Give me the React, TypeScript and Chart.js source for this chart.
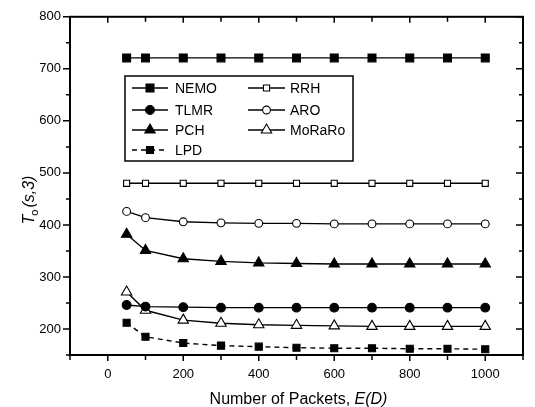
import React, { useEffect, useRef } from "react";
import { Chart, registerables } from "chart.js";

Chart.register(...registerables);

const xValues = [50, 100, 200, 300, 400, 500, 600, 700, 800, 900, 1000];
const nemo = [721, 721, 721, 721, 721, 721, 721, 721, 721, 721, 721];
const rrh = [480, 480, 480, 480, 480, 480, 480, 480, 480, 480, 480];
const tlmr = [246, 243, 242, 241, 241, 241, 241, 241, 241, 241, 241];
const aro = [426, 414, 406, 404, 403, 403, 402, 402, 402, 402, 402];
const pch = [382, 351, 335, 330, 327, 326, 325, 325, 325, 325, 325];
const moraro = [271, 236, 217, 211, 208, 207, 206, 205, 205, 205, 205];
const lpd = [212, 185, 173, 168, 166, 164, 163, 163, 162, 162, 161];

const xTickLabels = [0, 200, 400, 600, 800, 1000];
const yTickLabels = [200, 300, 400, 500, 600, 700, 800];

const FONT = "'Liberation Sans', Arial, Helvetica, sans-serif";

type Series = {
  label: string;
  values: number[];
  style: "rect" | "circle" | "triangle";
  radius: number;
  filled: boolean;
  dash: number[];
};

const seriesList: Series[] = [
  { label: "NEMO", values: nemo, style: "rect", radius: 5.6, filled: true, dash: [] },
  { label: "RRH", values: rrh, style: "rect", radius: 4.3, filled: false, dash: [] },
  { label: "TLMR", values: tlmr, style: "circle", radius: 4.4, filled: true, dash: [] },
  { label: "ARO", values: aro, style: "circle", radius: 3.9, filled: false, dash: [] },
  { label: "PCH", values: pch, style: "triangle", radius: 6, filled: true, dash: [] },
  { label: "MoRaRo", values: moraro, style: "triangle", radius: 6, filled: false, dash: [] },
  { label: "LPD", values: lpd, style: "rect", radius: 5, filled: true, dash: [5, 4] },
];

function drawMarker(ctx: CanvasRenderingContext2D, s: Series, x: number, y: number) {
  ctx.save();
  ctx.setLineDash([]);
  ctx.beginPath();
  const r = s.radius;
  if (s.style === "rect") {
    const h = Math.SQRT1_2 * r;
    ctx.rect(x - h, y - h, 2 * h, 2 * h);
  } else if (s.style === "circle") {
    ctx.arc(x, y, r, 0, Math.PI * 2);
  } else {
    const a = -Math.PI / 2;
    ctx.moveTo(x + Math.cos(a) * r, y + Math.sin(a) * r);
    ctx.lineTo(x + Math.cos(a + (2 * Math.PI) / 3) * r, y + Math.sin(a + (2 * Math.PI) / 3) * r);
    ctx.lineTo(x + Math.cos(a + (4 * Math.PI) / 3) * r, y + Math.sin(a + (4 * Math.PI) / 3) * r);
    ctx.closePath();
  }
  ctx.fillStyle = s.filled ? "#000" : "#fff";
  ctx.fill();
  ctx.lineWidth = 1.1;
  ctx.strokeStyle = "#000";
  ctx.stroke();
  ctx.restore();
}

const framePlugin = {
  id: "framePlugin",
  afterDraw(chart: any) {
    const ctx: CanvasRenderingContext2D = chart.ctx;
    const { left, right, top, bottom } = chart.chartArea;
    const xs = chart.scales.x;
    const ys = chart.scales.y;
    ctx.save();
    ctx.strokeStyle = "#000";
    ctx.lineWidth = 2;
    ctx.setLineDash([]);
    ctx.strokeRect(left, top, right - left, bottom - top);
    ctx.lineWidth = 1.5;
    // x ticks
    for (let v = -100; v <= 1100; v += 100) {
      const px = xs.getPixelForValue(v);
      const major = v % 200 === 0;
      const len = major ? 6 : 5;
      ctx.beginPath();
      ctx.moveTo(px, bottom);
      ctx.lineTo(px, bottom + len);
      ctx.moveTo(px, top);
      ctx.lineTo(px, top + len);
      ctx.stroke();
    }
    for (let v = 150; v <= 800; v += 50) {
      const py = ys.getPixelForValue(v);
      const major = v % 100 === 0;
      const len = major ? 7 : 4;
      ctx.beginPath();
      ctx.moveTo(left, py);
      ctx.lineTo(left - len, py);
      ctx.moveTo(right, py);
      ctx.lineTo(right - len, py);
      ctx.stroke();
    }

    // legend
    const lx0 = 125, ly0 = 76, lx1 = 353, ly1 = 161;
    ctx.lineWidth = 1.5;
    ctx.strokeRect(lx0, ly0, lx1 - lx0, ly1 - ly0);
    const rows = [88, 110, 130, 150];
    const cols = [
      { l0: 132, l1: 168, tx: 175 },
      { l0: 248, l1: 285, tx: 290 },
    ];
    const order = [
      [0, 0, 0], [1, 1, 0], [2, 0, 1], [3, 1, 1], [4, 0, 2], [5, 1, 2], [6, 0, 3],
    ];
    ctx.font = `14px ${FONT}`;
    ctx.textBaseline = "middle";
    ctx.textAlign = "left";
    ctx.fillStyle = "#000";
    for (const [si, ci, ri] of order) {
      const s = seriesList[si];
      const c = cols[ci];
      const y = rows[ri];
      ctx.save();
      ctx.lineWidth = 1.4;
      ctx.setLineDash(s.dash);
      ctx.beginPath();
      ctx.moveTo(c.l0, y);
      ctx.lineTo(c.l1, y);
      ctx.stroke();
      ctx.restore();
      drawMarker(ctx, s, (c.l0 + c.l1) / 2, y);
      ctx.fillStyle = "#000";
      ctx.fillText(s.label, c.tx, y + 1);
    }

    // x axis title
    ctx.textBaseline = "alphabetic";
    ctx.font = `16px ${FONT}`;
    const t1 = "Number of Packets, ";
    ctx.font = `16px ${FONT}`;
    const w1 = ctx.measureText(t1).width;
    ctx.font = `italic 16px ${FONT}`;
    const t2 = "E(D)";
    const w2 = ctx.measureText(t2).width;
    const cx = (left + right) / 2 + 2;
    const sx = cx - (w1 + w2) / 2;
    ctx.font = `16px ${FONT}`;
    ctx.fillText(t1, sx, 404);
    ctx.font = `italic 16px ${FONT}`;
    ctx.fillText(t2, sx + w1, 404);

    // y axis title
    ctx.save();
    ctx.translate(34, 200);
    ctx.rotate(-Math.PI / 2);
    ctx.font = `italic 16px ${FONT}`;
    const a = "T";
    const b = "o";
    const c = "(s,3)";
    const wa = ctx.measureText(a).width;
    ctx.font = `11px ${FONT}`;
    const wb = ctx.measureText(b).width;
    ctx.font = `italic 16px ${FONT}`;
    const wc = ctx.measureText(c).width;
    const total = wa + wb + wc + 1;
    let x0 = -total / 2;
    ctx.fillText(a, x0, 0);
    ctx.font = `11px ${FONT}`;
    ctx.fillText(b, x0 + wa - 1, 4);
    ctx.font = `italic 16px ${FONT}`;
    ctx.fillText(c, x0 + wa + wb + 1, 0);
    ctx.restore();

    ctx.restore();
  },
};

export default function App() {
  const canvasRef = useRef<HTMLCanvasElement | null>(null);

  useEffect(() => {
    const canvas = canvasRef.current;
    if (!canvas) return;
    Chart.defaults.font.family = FONT;
    Chart.defaults.color = "#000";
    const datasets = seriesList.map((s) => ({
      label: s.label,
      data: xValues.map((x, i) => ({ x, y: s.values[i] })),
      borderColor: "#000",
      backgroundColor: s.filled ? "#000" : "#fff",
      borderWidth: 1.4,
      borderDash: s.dash,
      pointStyle: s.style,
      pointRadius: s.radius,
      pointBorderWidth: 1.1,
      pointBorderColor: "#000",
      pointBackgroundColor: s.filled ? "#000" : "#fff",
      fill: false,
      tension: 0,
    }));
    const chart = new Chart(canvas, {
      type: "line",
      data: { datasets },
      options: {
        animation: false,
        responsive: false,
        maintainAspectRatio: false,
        layout: { padding: { left: 0, right: 4, top: 13, bottom: 0 } },
        plugins: {
          legend: { display: false },
          tooltip: { enabled: false },
        },
        scales: {
          x: {
            type: "linear",
            min: -100,
            max: 1100,
            grid: { display: false, drawTicks: false },
            border: { display: false },
            ticks: {
              stepSize: 100,
              autoSkip: false,
              maxRotation: 0,
              padding: 12,
              font: { size: 13, family: FONT },
              color: "#000",
              callback: (v: any) => (xTickLabels.includes(Number(v)) ? String(v) : ""),
            },
            afterFit: (scale: any) => {
              scale.height = 52;
            },
          },
          y: {
            type: "linear",
            min: 150,
            max: 800,
            grid: { display: false, drawTicks: false },
            border: { display: false },
            ticks: {
              stepSize: 50,
              autoSkip: false,
              padding: 9,
              font: { size: 13, family: FONT },
              color: "#000",
              callback: (v: any) => (yTickLabels.includes(Number(v)) ? String(v) : ""),
            },
            afterFit: (scale: any) => {
              scale.width = 70;
            },
          },
        },
      },
      plugins: [framePlugin],
    });
    return () => chart.destroy();
  }, []);

  return (
    <div style={{ position: "fixed", left: 0, top: 0, width: 535, height: 407, background: "#fff" }}>
      <canvas ref={canvasRef} width={535} height={407} style={{ display: "block" }} />
    </div>
  );
}
